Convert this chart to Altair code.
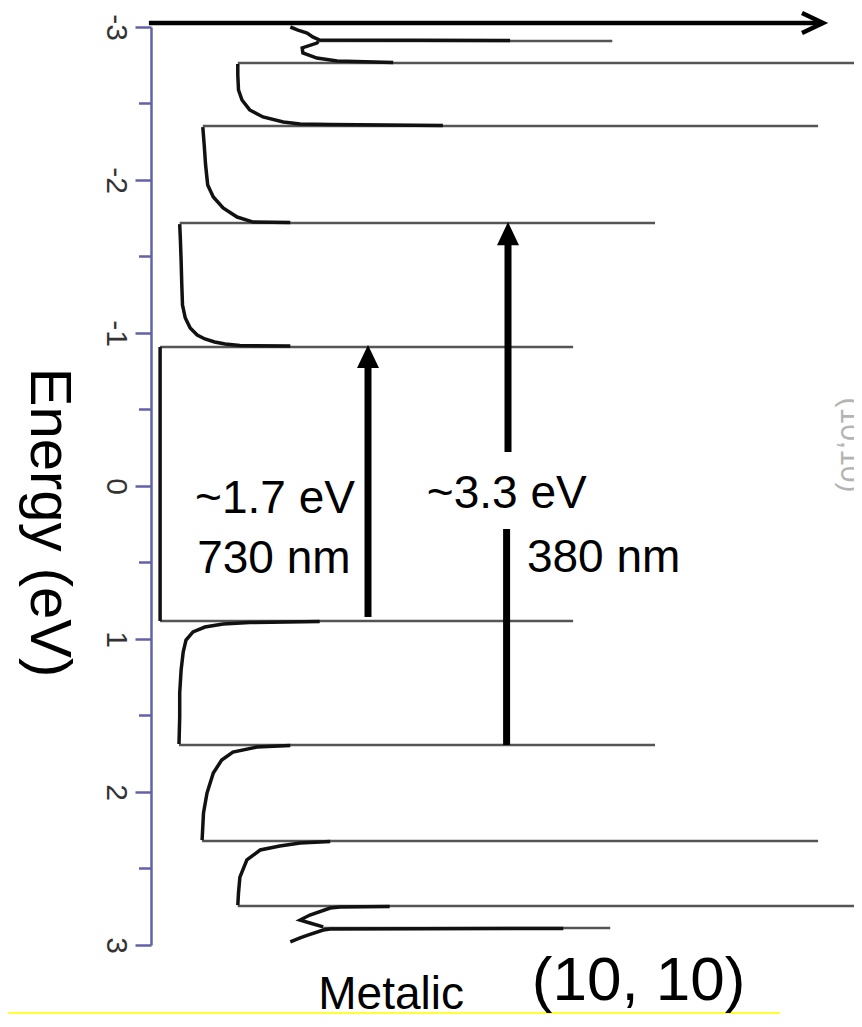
import altair as alt
import pandas as pd

# ---- energy axis ticks (eV)
MAJOR_TICKS = [-3, -2, -1, 0, 1, 2, 3]
MINOR_TICKS = [-2.5, -1.5, -0.5, 0.5, 1.5, 2.5]

# ---- DOS curve of the (10,10) tube, band by band: energy (eV) and DOS (a.u.)
top5_E = [-2.912, -2.915, -2.935, -2.961, -2.980, -3.000]
top5_D = [5.13, 2.41, 2.31, 2.23, 2.10, 1.99]
top4_E = [-2.768, -2.778, -2.797, -2.830, -2.863, -2.895, -2.905]
top4_D = [3.46, 2.66, 2.37, 2.17, 2.16, 2.37, 2.39]
top3_E = [-2.357, -2.363, -2.366, -2.379, -2.412, -2.458, -2.523, -2.588, -2.686, -2.758]
top3_D = [4.17, 2.56, 2.13, 1.89, 1.60, 1.41, 1.30, 1.25, 1.24, 1.24]
top2_E = [-1.722, -1.725, -1.758, -1.817, -1.889, -1.967, -2.098, -2.229, -2.346]
top2_D = [1.99, 1.46, 1.23, 1.03, 0.89, 0.81, 0.78, 0.76, 0.74]
top1_E = [-0.915, -0.918, -0.928, -0.941, -0.961, -0.987, -1.033, -1.098, -1.183,
          -1.314, -1.477, -1.608, -1.712]
top1_D = [1.99, 1.27, 1.06, 0.91, 0.77, 0.66, 0.56, 0.49, 0.45, 0.44, 0.43, 0.42, 0.41]
center_E = [-0.908, 0.882]
center_D = [0.13, 0.13]
bot1_E = [0.886, 0.892, 0.902, 0.922, 0.954, 1.007, 1.085, 1.203, 1.353, 1.510, 1.686]
bot1_D = [2.41, 1.41, 1.03, 0.77, 0.60, 0.50, 0.46, 0.43, 0.41, 0.41, 0.40]
bot2_E = [1.696, 1.706, 1.739, 1.791, 1.876, 2.007, 2.137, 2.314]
bot2_D = [1.99, 1.51, 1.17, 1.01, 0.89, 0.80, 0.75, 0.73]
bot3_E = [2.324, 2.333, 2.353, 2.379, 2.444, 2.556, 2.660, 2.739]
bot3_D = [2.56, 2.13, 1.84, 1.56, 1.37, 1.27, 1.25, 1.24]
bot4_E = [2.748, 2.752, 2.758, 2.804, 2.837, 2.856, 2.882]
bot4_D = [3.41, 2.70, 2.56, 2.27, 2.13, 2.27, 2.46]
bot5_E = [2.892, 2.895, 2.902, 2.935, 2.954, 2.980]
bot5_D = [5.89, 2.56, 2.46, 2.24, 2.13, 1.99]

# ---- van Hove singularities (spikes): energy, DOS start, DOS peak
spike_E = [-2.908, -2.765, -2.353, -1.719, -0.908, 0.882, 1.693, 2.320, 2.745, 2.889]
spike_start = [2.39, 1.24, 0.74, 0.41, 0.13, 0.13, 0.40, 0.73, 1.24, 2.46]
spike_end = [6.59, 10.3, 9.53, 7.20, 6.03, 6.03, 7.20, 9.53, 10.3, 6.56]

# ---- transition arrows (DOS position, energy from, energy to)
shaft_x = [3.10, 5.10, 5.08]
shaft_from = [0.856, -0.222, 0.281]
shaft_to = [-0.80, -1.60, 1.693]
head_x = [3.10, 5.10]
head_tip = [-0.922, -1.725]

# ---- DOS-direction arrow on top
top_arrow_x = [-0.03, 9.60, 9.30, 9.60, 9.30]
top_arrow_y = [-3.026, -3.026, -3.092, -3.026, -2.961]
top_arrow_part = ["shaft", "shaft", "head", "head", "head"]

# ---- annotations
label_text = ["~1.7 eV", "730 nm", "~3.3 eV", "380 nm", "Metalic", "(10, 10)"]
label_x = [0.63, 0.66, 3.94, 5.37, 2.39, 5.44]
label_y = [0.176, 0.569, 0.144, 0.562, 3.418, 3.359]
label_size = [46, 46, 46, 46, 46, 62]

# ---------------------------------------------------------------------------
bands = [("top5", top5_E, top5_D), ("top4", top4_E, top4_D), ("top3", top3_E, top3_D),
         ("top2", top2_E, top2_D), ("top1", top1_E, top1_D), ("center", center_E, center_D),
         ("bot1", bot1_E, bot1_D), ("bot2", bot2_E, bot2_D), ("bot3", bot3_E, bot3_D),
         ("bot4", bot4_E, bot4_D), ("bot5", bot5_E, bot5_D)]
rows = []
for name, es, ds in bands:
    for i, (e, d) in enumerate(zip(es, ds)):
        rows.append({"band": name, "i": i, "E": e, "DOS": d})
curve_df = pd.DataFrame(rows)
spike_df = pd.DataFrame({"E": spike_E, "d0": spike_start, "d1": spike_end})
shaft_df = pd.DataFrame({"x": shaft_x, "E": shaft_from, "E2": shaft_to})
head_df = pd.DataFrame({"x": head_x, "E": head_tip})
top_df = pd.DataFrame({"x": top_arrow_x, "E": top_arrow_y, "part": top_arrow_part,
                       "i": list(range(len(top_arrow_x)))})
label_df = pd.DataFrame({"t": label_text, "x": label_x, "E": label_y, "s": label_size})
minor_df = pd.DataFrame({"E": MINOR_TICKS})
faint_df = pd.DataFrame({"t": ["(10,10)"], "x": [9.85], "E": [-0.268]})
yellow_df = pd.DataFrame({"x": [-2.04], "x2": [8.99], "E": [3.444]})

AXIS_COLOR = "#6262a8"
FONT = "Liberation Sans"
xs = alt.Scale(domain=[0, 10], nice=False, zero=False)
ys = alt.Scale(domain=[-3, 3], reverse=True, nice=False, zero=False)

y_axis = alt.Axis(
    values=MAJOR_TICKS, domainColor=AXIS_COLOR, domainWidth=2.5, tickColor=AXIS_COLOR,
    tickWidth=2.5, tickSize=16, labelAngle=90, labelAlign="center", labelBaseline="top",
    labelPadding=5, labelFontSize=30, labelFont=FONT, labelColor="#333333",
    labelFlush=False, labelOverlap=False, grid=False,
    labelExpr="datum.value < 0 ? '-' + (-datum.value) : '' + datum.value",
    title="Energy (eV)", titleFont=FONT, titleFontSize=58, titleFontWeight="normal",
    titleColor="#000000", titleAngle=90, titleAlign="center", titleBaseline="alphabetic",
    titleX=-121, titleY=495,
)


def Y(field):
    return alt.Y(field, type="quantitative", scale=ys, axis=y_axis)


def X(field):
    return alt.X(field, type="quantitative", scale=xs, axis=None)


spikes = alt.Chart(spike_df).mark_rule(color="#555555", strokeWidth=2.5).encode(
    x=X("d0"), x2="d1", y=Y("E"),
)
curve = alt.Chart(curve_df).mark_line(color="#111111", strokeWidth=3.5).encode(
    x=X("DOS"), y=Y("E"), detail="band:N", order="i:Q",
)
minor = alt.Chart(minor_df).mark_rule(color=AXIS_COLOR, strokeWidth=2.5).encode(
    y=Y("E"), x=alt.value(-12), x2=alt.value(0),
)
top_arrow = alt.Chart(top_df).mark_line(color="#000000", strokeWidth=4.5,
                                        strokeJoin="miter").encode(
    x=X("x"), y=Y("E"), detail="part:N", order="i:Q",
)
shafts = alt.Chart(shaft_df).mark_rule(color="#000000", strokeWidth=7).encode(
    x=X("x"), y=Y("E"), y2="E2",
)
heads = alt.Chart(head_df).mark_point(
    shape="M-1,2.1L0,0L1,2.1Z", filled=True, color="#000000", opacity=1, size=484,
).encode(x=X("x"), y=Y("E"))
labels = alt.Chart(label_df).mark_text(
    align="left", baseline="alphabetic", font=FONT, color="#000000",
).encode(x=X("x"), y=Y("E"), text="t:N", size=alt.Size("s:Q", scale=None))
faint = alt.Chart(faint_df).mark_text(
    align="center", baseline="alphabetic", font=FONT, fontSize=30, angle=90,
    color="#b4b4b4",
).encode(x=X("x"), y=Y("E"), text="t:N")
yellow = alt.Chart(yellow_df).mark_rule(color="#ffff33", strokeWidth=2).encode(
    x=X("x"), x2="x2", y=Y("E"),
)

chart = alt.layer(
    spikes, curve, minor, top_arrow, shafts, heads, faint, yellow, labels
).properties(
    width=700, height=918,
    autosize=alt.AutoSizeParams(type="none"),
    padding={"left": 143, "top": 19, "right": 3, "bottom": 69},
    background="#ffffff",
).configure_view(strokeWidth=0)

chart.save("out.html", embed_options={"renderer": "svg", "actions": False})
